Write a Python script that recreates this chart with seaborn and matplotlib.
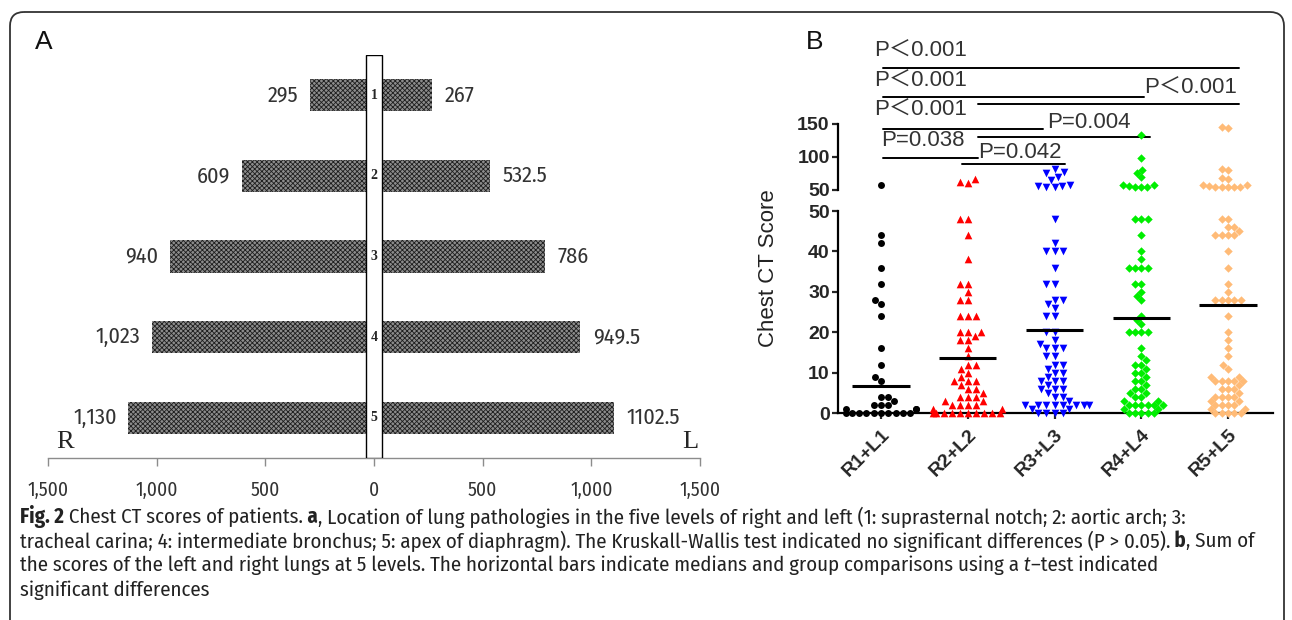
import numpy as np
import pandas as pd
import matplotlib
matplotlib.use("Agg")
import matplotlib.pyplot as plt
import seaborn as sns
from matplotlib.patches import FancyBboxPatch
from matplotlib.transforms import blended_transform_factory
from matplotlib import font_manager

# ---------------- Panel A data ----------------
levels = ["1", "2", "3", "4", "5"]
right_scores = [295, 609, 940, 1023, 1130]
left_scores = [267, 532.5, 786, 949.5, 1102.5]
right_labels = ["295", "609", "940", "1,023", "1,130"]
left_labels = ["267", "532.5", "786", "949.5", "1102.5"]
a_ticks = [-1500, -1000, -500, 0, 500, 1000, 1500]
a_tick_labels = ["1,500", "1,000", "500", "0", "500", "1,000", "1,500"]

# ---------------- Panel B data ----------------
groups = ["R1+L1", "R2+L2", "R3+L3", "R4+L4", "R5+L5"]
r1_scores = [57, 44, 42, 36, 32, 28, 27, 24, 16, 12, 9, 8, 4, 4, 3, 2, 2, 2, 1, 1, 1,
             0, 0, 0, 0, 0, 0, 0, 0, 0, 0]
r2_scores = [66, 62, 60, 48, 48, 44, 38, 32, 32, 30, 28, 28, 24, 24, 24, 20, 20, 20, 19,
             18, 18, 16, 14, 12, 12, 11, 10, 9, 8, 8, 8, 7, 6, 6, 5, 4, 4, 4, 3, 3,
             2, 2, 2, 2, 1, 1, 0, 0, 0, 0, 0, 0, 0, 0, 0, 0]
r3_scores = [82, 78, 75, 70, 65, 58, 56, 56, 55, 55, 48, 42, 40, 40, 40, 36, 32, 32, 28,
             28, 27, 26, 24, 24, 20, 20, 18, 17, 16, 16, 16, 14, 14, 12, 12, 11, 10, 10,
             9, 8, 8, 8, 7, 6, 6, 6, 5, 4, 4, 3, 2, 2, 2, 2, 2, 2, 2, 2, 1, 1, 0, 0, 0, 0]
r4_scores = [133, 98, 80, 76, 70, 58, 57, 56, 55, 55, 54, 48, 48, 48, 44, 40, 38, 36, 36,
             36, 36, 32, 32, 30, 29, 28, 24, 23, 22, 20, 20, 20, 20, 16, 14, 13, 12, 12,
             11, 10, 10, 9, 8, 8, 7, 6, 6, 5, 5, 4, 4, 3, 3, 2, 2, 2, 2, 2, 2, 1, 1,
             0, 0, 0, 0, 0]
r5_scores = [145, 144, 82, 80, 68, 66, 58, 57, 56, 55, 55, 55, 55, 54, 48, 48, 46, 46, 45,
             44, 44, 44, 44, 40, 36, 32, 30, 28, 28, 28, 28, 28, 24, 20, 18, 16, 14, 12,
             11, 9, 9, 8, 8, 8, 8, 8, 7, 6, 6, 6, 5, 4, 4, 4, 4, 3, 3, 2, 2, 2, 2, 1, 1,
             0, 0, 0, 0, 0]
center_lines = [6.7, 13.6, 20.5, 23.5, 26.7]
upper_ticks = [50, 100, 150]
lower_ticks = [0, 10, 20, 30, 40, 50]
comparison_pairs = [(0, 4), (0, 3), (1, 4), (0, 2), (1, 3), (0, 1), (1, 2)]
comparison_labels = ["P＜0.001", "P＜0.001", "P＜0.001", "P＜0.001",
                     "P=0.004", "P=0.038", "P=0.042"]

# ---------------- style ----------------
sns.set_style("ticks")
plt.rcParams["font.family"] = ["Liberation Sans", "Noto Sans CJK SC", "DejaVu Sans"]
plt.rcParams["hatch.linewidth"] = 0.6

available = {f.name for f in font_manager.fontManager.ttflist}
NARROW = [f for f in ["Fira Sans Condensed", "Archivo Narrow", "Liberation Sans"] if f in available] + ["DejaVu Sans"]
SERIF = ["Liberation Serif", "DejaVu Serif"]

W, H = 1292, 620
fig = plt.figure(figsize=(W / 100, H / 100), dpi=100)
fig.patch.set_facecolor("white")


def frac(l, t, r, b):
    return [l / W, 1 - b / H, (r - l) / W, (b - t) / H]


ax_bg = fig.add_axes([0, 0, 1, 1], zorder=0)
ax_bg.set_xlim(0, W)
ax_bg.set_ylim(H, 0)
ax_bg.axis("off")

axA = fig.add_axes(frac(48, 55, 700, 458), zorder=1)
axLo = fig.add_axes(frac(838, 211, 1273, 413), zorder=1)
axUp = fig.add_axes(frac(838, 124, 1273, 190), zorder=1)
for ax in (axA, axLo, axUp):
    ax.set_facecolor("none")

# ---------------- Panel A ----------------
dfA = pd.DataFrame({
    "level": levels + levels,
    "side": ["R"] * len(levels) + ["L"] * len(levels),
    "score": [-v for v in right_scores] + list(left_scores),
})
sns.barplot(data=dfA, x="score", y="level", hue="side", order=levels, orient="h",
            dodge=False, width=0.4, palette={"R": "#8c8c8c", "L": "#8c8c8c"},
            errorbar=None, legend=False, ax=axA)
for p in axA.patches:
    p.set_hatch("xxxxxxx")
    p.set_edgecolor("#1e1e1e")
    p.set_linewidth(0)

axA.axvspan(-37, 37, ymin=0, ymax=1, facecolor="white", edgecolor="black", lw=1.0, zorder=3)
for i, lv in enumerate(levels):
    axA.text(0, i, lv, ha="center", va="center", family=SERIF, fontweight="bold",
             fontsize=10, zorder=4)
    axA.annotate(right_labels[i], xy=(-right_scores[i], i), xytext=(-8, 0),
                 textcoords="offset points", ha="right", va="center",
                 family=NARROW, fontsize=16, color="#333333")
    axA.annotate(left_labels[i], xy=(left_scores[i], i), xytext=(9, 0),
                 textcoords="offset points", ha="left", va="center",
                 family=NARROW, fontsize=16, color="#333333")

axA.set_xlim(-1500, 1500)
axA.set_ylim(4.5, -0.5)
axA.set_xticks(a_ticks)
axA.set_xticklabels(a_tick_labels)
axA.set_yticks([])
axA.set_xlabel("")
axA.set_ylabel("")
for s in ["left", "right", "top"]:
    axA.spines[s].set_visible(False)
axA.spines["bottom"].set_color("#8c8c8c")
axA.spines["bottom"].set_linewidth(1.0)
axA.tick_params(axis="x", direction="out", length=6, width=1, color="#8c8c8c",
                labelsize=14, labelcolor="#333333", pad=10)
for lab in axA.get_xticklabels():
    lab.set_family(NARROW)

# ---------------- Panel B ----------------
group_scores = [r1_scores, r2_scores, r3_scores, r4_scores, r5_scores]
dfB = pd.DataFrame({
    "group": np.repeat(groups, [len(s) for s in group_scores]),
    "score": np.concatenate(group_scores),
})
colors = ["#000000", "#ff0000", "#0000ff", "#00ee00", "#ffbb77"]
markers = ["o", "^", "v", "D", "D"]
msizes = [5.0, 5.5, 5.5, 4.3, 4.3]

for g, c, m, s in zip(groups, colors, markers, msizes):
    sub = dfB[dfB["group"] == g]
    lo = sub[sub["score"] <= 50]
    hi = sub[sub["score"] > 50]
    sns.swarmplot(data=lo, x="group", y="score", order=groups, color=c, marker=m,
                  size=s, linewidth=0, ax=axLo, warn_thresh=1.0)
    if len(hi):
        sns.swarmplot(data=hi, x="group", y="score", order=groups, color=c, marker=m,
                      size=s, linewidth=0, ax=axUp, warn_thresh=1.0)

for ax in (axLo, axUp):
    for coll in ax.collections:
        coll.set_clip_on(False)
    ax.set_xlim(-0.496, 4.519)
    ax.set_xlabel("")
    ax.set_ylabel("")

xpos = np.arange(len(groups))
axLo.hlines(center_lines, xpos - 0.33, xpos + 0.33, color="black", lw=2.2, zorder=6)

axLo.set_ylim(0, 50)
axUp.set_ylim(50, 150)
axLo.set_yticks(lower_ticks)
axUp.set_yticks(upper_ticks)
axLo.set_xticks(xpos)
axLo.set_xticklabels(groups, rotation=45, ha="right", rotation_mode="anchor",
                     fontweight="bold", fontsize=14)
axUp.set_xticks([])
for s in ["top", "right"]:
    axLo.spines[s].set_visible(False)
for s in ["top", "right", "bottom"]:
    axUp.spines[s].set_visible(False)
for ax in (axLo, axUp):
    for s in ["left", "bottom"]:
        ax.spines[s].set_linewidth(1.6)
        ax.spines[s].set_color("black")
    ax.tick_params(axis="y", direction="out", length=4.5, width=1.6, labelsize=14, pad=1.5)
    for lab in ax.get_yticklabels():
        lab.set_fontweight("bold")
axLo.tick_params(axis="x", direction="out", length=4.5, width=1.6, pad=5)

# comparison brackets (x offsets in category units, y in figure pixels)
bracket_layout = [
    (0.02, 0.13, 68, -0.08, 51),
    (0.02, 0.03, 97, -0.08, 81),
    (0.12, 0.13, 104, -0.97, 88),
    (0.02, -0.13, 129, -0.08, 110),
    (0.12, 0.10, 137, -1.08, 122),
    (0.02, 0.12, 158, 0.00, 141),
    (-0.07, 0.12, 164, 0.12, 152),
]
btrans = blended_transform_factory(axUp.transData, ax_bg.transData)
for (i0, i1), lab, (o0, o1, ly, tx, ty) in zip(comparison_pairs, comparison_labels, bracket_layout):
    axUp.plot([i0 + o0, i1 + o1], [ly, ly], color="black", lw=1.4,
              transform=btrans, clip_on=False)
    anchor = i0 if tx > -0.5 else i1
    axUp.text(anchor + tx, ty, lab, transform=btrans, ha="left", va="center",
              fontsize=16, color="#333333", clip_on=False)

# ---------------- overlay texts ----------------
ax_bg.text(768, 268, "Chest CT Score", rotation=90, ha="center", va="center",
           fontsize=16, color="#222222")
ax_bg.text(35, 42, "A", ha="left", va="center", fontsize=19, color="#111111")
ax_bg.text(806, 42, "B", ha="left", va="center", fontsize=19, color="#111111")
ax_bg.text(65, 442, "R", ha="center", va="center", family=SERIF, fontsize=19)
ax_bg.text(690, 442, "L", ha="center", va="center", family=SERIF, fontsize=19)

border = FancyBboxPatch((10, 12), 1274, 700, boxstyle="round,pad=0,rounding_size=14",
                        facecolor="none", edgecolor="#333333", lw=1.3, clip_on=False)
ax_bg.add_patch(border)

cap_lines = [
    [("Fig. 2", "bold", "normal"), (" Chest CT scores of patients.", "normal", "normal"),
     (" a", "bold", "normal"),
     (", Location of lung pathologies in the five levels of right and left (1: suprasternal notch; 2: aortic arch; 3:", "normal", "normal")],
    [("tracheal carina; 4: intermediate bronchus; 5: apex of diaphragm). The Kruskall-Wallis test indicated no significant differences (P > 0.05).", "normal", "normal"),
     (" b", "bold", "normal"), (", Sum of", "normal", "normal")],
    [("the scores of the left and right lungs at 5 levels. The horizontal bars indicate medians and group comparisons using a", "normal", "normal"),
     (" t", "normal", "italic"), ("–test indicated", "normal", "normal")],
    [("significant differences", "normal", "normal")],
]
cap_y = [517, 541, 565, 590]
cap_targets = [1233, 1262]
renderer = fig.canvas.get_renderer()


def draw_line(pieces, x, y, size):
    arts = []
    for txt, wt, st in pieces:
        t = ax_bg.text(x, y, txt, fontsize=size, fontweight=wt, fontstyle=st,
                       family=NARROW, ha="left", va="center", color="#222222")
        bb = t.get_window_extent(renderer=renderer)
        x += bb.width
        arts.append(t)
    return arts, x


sizes = []
for pieces, target in zip(cap_lines[:2], cap_targets):
    arts, xend = draw_line(pieces, 20, 0, 12)
    for a in arts:
        a.remove()
    sizes.append(12 * (target - 20) / (xend - 20))
cap_size = min(sizes)
for pieces, y in zip(cap_lines, cap_y):
    draw_line(pieces, 20, y, cap_size)

fig.savefig("out.png", dpi=100)
